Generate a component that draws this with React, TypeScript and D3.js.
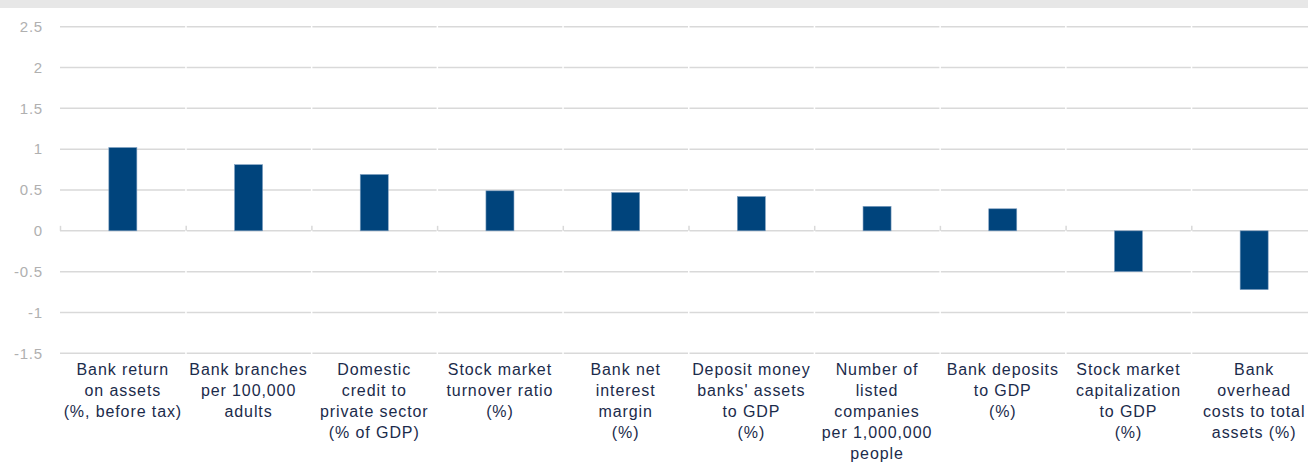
import React from "react";
import * as d3 from "d3";

const categories: string[] = [
  "Bank return\non assets\n(%, before tax)",
  "Bank branches\nper 100,000\nadults",
  "Domestic\ncredit to\nprivate sector\n(% of GDP)",
  "Stock market\nturnover ratio\n(%)",
  "Bank net\ninterest\nmargin\n(%)",
  "Deposit money\nbanks' assets\nto GDP\n(%)",
  "Number of\nlisted\ncompanies\nper 1,000,000\npeople",
  "Bank deposits\nto GDP\n(%)",
  "Stock market\ncapitalization\nto GDP\n(%)",
  "Bank\noverhead\ncosts to total\nassets (%)",
];
const values: number[] = [1.02, 0.81, 0.69, 0.49, 0.47, 0.42, 0.3, 0.27, -0.5, -0.72];
const yTicks: number[] = [-1.5, -1, -0.5, 0, 0.5, 1, 1.5, 2, 2.5];
const yTickLabels: string[] = ["-1.5", "-1", "-0.5", "0", "0.5", "1", "1.5", "2", "2.5"];

const W = 1308;
const H = 462;

export default function App() {
  const x = d3.scaleBand<string>().domain(categories).range([60, 1317]).padding(0);
  const y = d3.scaleLinear().domain([-1.5, 2.5]).range([353.3, 26.7]);
  const bw = x.bandwidth();
  const barW = bw * 0.223;
  const gridColor = "#d9d9d9";
  const y0 = y(0);

  return (
    <div style={{ position: "fixed", left: 0, top: 0, width: W, height: H, background: "#fff" }}>
      <svg width={W} height={H} style={{ display: "block" }}>
        <rect x={0} y={0} width={W} height={8} fill="#e7e7e7" />
        {/* gridlines */}
        {yTicks.map((t, i) => (
          <g key={"g" + i}>
            {categories.map((c, j) => (
              <line
                key={j}
                x1={(x(c) as number) + (j === 0 ? 0 : 1)}
                x2={(x(c) as number) + bw - 0.5}
                y1={y(t)}
                y2={y(t)}
                stroke={gridColor}
                strokeWidth={1.5}
              />
            ))}
            <text
              x={43}
              y={y(t)}
              dy="0.35em"
              textAnchor="end"
              fontFamily="'Liberation Sans', Arial, sans-serif"
              fontSize={15}
              letterSpacing={0.8}
              fill="#b0b0b0"
            >
              {yTickLabels[i]}
            </text>
          </g>
        ))}
        {/* tick marks on zero line */}
        {categories.map((c, j) => (
          <line
            key={"t" + j}
            x1={(x(c) as number) + 0.5}
            x2={(x(c) as number) + 0.5}
            y1={y0 - 5}
            y2={y0}
            stroke={gridColor}
            strokeWidth={1.5}
          />
        ))}
        {/* bars */}
        {categories.map((c, j) => {
          const v = values[j];
          const cx = (x(c) as number) + bw / 2;
          return (
            <rect
              key={"b" + j}
              x={cx - barW / 2}
              y={Math.min(y(v), y0)}
              width={barW}
              height={Math.abs(y(v) - y0)}
              fill="#00447c"
              stroke="#7f9fc0"
              strokeWidth={0.6}
            />
          );
        })}
        {/* category labels */}
        {categories.map((c, j) => {
          const cx = (x(c) as number) + bw / 2;
          const lines = c.split("\n");
          return (
            <text
              key={"l" + j}
              textAnchor="middle"
              fontFamily="'Liberation Sans', Arial, sans-serif"
              fontSize={16}
              letterSpacing={0.9}
              fill="#1b2b4b"
            >
              {lines.map((ln, k) => (
                <tspan key={k} x={cx} y={375 + k * 21}>
                  {ln}
                </tspan>
              ))}
            </text>
          );
        })}
      </svg>
    </div>
  );
}
